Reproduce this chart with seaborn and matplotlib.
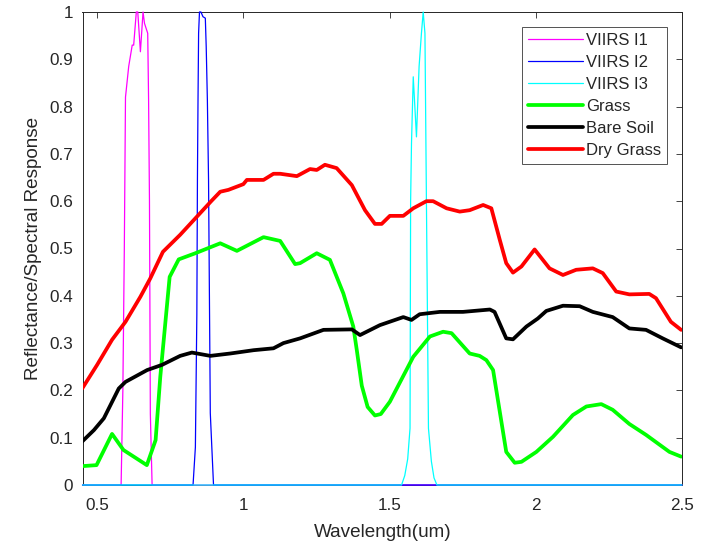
import numpy as np
import pandas as pd
import matplotlib
matplotlib.use('Agg')
import matplotlib.pyplot as plt
import seaborn as sns
from matplotlib.ticker import FuncFormatter

# ---- data ----
wl_i1 = [0.45, 0.582, 0.588, 0.593, 0.597, 0.608, 0.620, 0.625, 0.634, 0.639, 0.648,
         0.657, 0.662, 0.673, 0.676, 0.679, 0.682, 0.688, 2.5]
resp_i1 = [0, 0, 0.20, 0.50, 0.82, 0.885, 0.93, 0.93, 1.0, 1.0, 0.916,
           1.0, 0.976, 0.955, 0.814, 0.60, 0.15, 0, 0]

wl_i2 = [0.45, 0.828, 0.836, 0.841, 0.843, 0.845, 0.847, 0.850, 0.855, 0.862, 0.870,
         0.873, 0.877, 0.881, 0.887, 0.898, 2.5]
resp_i2 = [0, 0, 0.08, 0.36, 0.645, 0.814, 0.955, 1.0, 1.0, 0.99, 0.987,
           0.927, 0.814, 0.645, 0.152, 0, 0]

wl_i3 = [0.45, 1.541, 1.552, 1.562, 1.570, 1.572, 1.575, 1.581, 1.592, 1.601, 1.609,
         1.615, 1.621, 1.626, 1.633, 1.643, 1.652, 1.662, 2.5]
resp_i3 = [0, 0, 0.02, 0.055, 0.12, 0.60, 0.722, 0.863, 0.736, 0.885, 0.955,
           1.0, 0.955, 0.603, 0.12, 0.05, 0.015, 0, 0]

wl_grass = [0.452, 0.498, 0.551, 0.590, 0.670, 0.700, 0.716, 0.748, 0.779, 0.836, 0.921,
            0.978, 1.069, 1.126, 1.177, 1.194, 1.251, 1.296, 1.342, 1.376, 1.388, 1.405,
            1.425, 1.450, 1.470, 1.501, 1.581, 1.638, 1.683, 1.712, 1.774, 1.808, 1.831,
            1.854, 1.899, 1.928, 1.951, 2.002, 2.059, 2.127, 2.173, 2.224, 2.263, 2.320,
            2.377, 2.457, 2.497]
refl_grass = [0.040, 0.042, 0.108, 0.074, 0.042, 0.095, 0.229, 0.440, 0.477, 0.490, 0.511,
              0.495, 0.524, 0.516, 0.467, 0.469, 0.490, 0.476, 0.405, 0.335, 0.285, 0.210,
              0.165, 0.147, 0.150, 0.176, 0.271, 0.314, 0.324, 0.321, 0.278, 0.273, 0.264,
              0.243, 0.070, 0.047, 0.049, 0.070, 0.102, 0.148, 0.166, 0.171, 0.159, 0.129,
              0.106, 0.070, 0.060]

wl_soil = [0.449, 0.489, 0.523, 0.574, 0.597, 0.671, 0.722, 0.784, 0.824, 0.887, 0.955,
           1.035, 1.103, 1.137, 1.194, 1.274, 1.371, 1.399, 1.467, 1.547, 1.575, 1.603,
           1.672, 1.751, 1.843, 1.859, 1.899, 1.922, 1.968, 2.007, 2.036, 2.093, 2.150,
           2.195, 2.263, 2.320, 2.377, 2.434, 2.497]
refl_soil = [0.092, 0.116, 0.141, 0.204, 0.218, 0.243, 0.254, 0.273, 0.280, 0.273, 0.278,
             0.285, 0.289, 0.300, 0.310, 0.328, 0.329, 0.317, 0.338, 0.355, 0.349, 0.361,
             0.366, 0.366, 0.371, 0.366, 0.310, 0.308, 0.335, 0.352, 0.368, 0.379, 0.378,
             0.366, 0.355, 0.331, 0.328, 0.310, 0.291]

wl_dry = [0.449, 0.500, 0.551, 0.597, 0.648, 0.682, 0.725, 0.784, 0.890, 0.921, 0.949,
          1.000, 1.012, 1.069, 1.103, 1.126, 1.183, 1.228, 1.251, 1.279, 1.319, 1.371,
          1.416, 1.450, 1.473, 1.501, 1.547, 1.581, 1.626, 1.649, 1.695, 1.740, 1.774,
          1.820, 1.848, 1.877, 1.899, 1.922, 1.951, 1.996, 2.047, 2.093, 2.138, 2.195,
          2.229, 2.275, 2.320, 2.388, 2.411, 2.462, 2.497]
refl_dry = [0.204, 0.254, 0.307, 0.345, 0.398, 0.437, 0.493, 0.529, 0.600, 0.620, 0.624,
            0.636, 0.645, 0.645, 0.658, 0.658, 0.653, 0.668, 0.666, 0.677, 0.670, 0.634,
            0.581, 0.552, 0.552, 0.569, 0.569, 0.585, 0.600, 0.600, 0.585, 0.578, 0.581,
            0.592, 0.585, 0.518, 0.469, 0.449, 0.462, 0.498, 0.458, 0.444, 0.455, 0.458,
            0.448, 0.409, 0.403, 0.404, 0.395, 0.345, 0.328]

x_ticks = [0.5, 1, 1.5, 2, 2.5]
y_ticks = [0, 0.1, 0.2, 0.3, 0.4, 0.5, 0.6, 0.7, 0.8, 0.9, 1.0]

# ---- style ----
sns.set_theme(style='white')
plt.rcParams['font.family'] = ['Liberation Sans', 'DejaVu Sans']
TXT = '#262626'

W, H = 717, 548
fig = plt.figure(figsize=(W / 100, H / 100), dpi=100)
L, R, T, B = 82.5, 682, 12, 485
ax = fig.add_axes([L / W, 1 - B / H, (R - L) / W, (B - T) / H])

thin = 0.9
thick = 2.7
series = [
    (wl_i1, resp_i1, 'VIIRS I1', '#FF00FF', thin),
    (wl_i2, resp_i2, 'VIIRS I2', '#0000FF', thin),
    (wl_i3, resp_i3, 'VIIRS I3', '#00FFFF', thin),
    (wl_grass, refl_grass, 'Grass', '#00FF00', thick),
    (wl_soil, refl_soil, 'Bare Soil', '#000000', thick),
    (wl_dry, refl_dry, 'Dry Grass', '#FF0000', thick),
]
for i, (xs, ys, lab, col, lw) in enumerate(series):
    df = pd.DataFrame({'x': xs, 'y': ys})
    sns.lineplot(data=df, x='x', y='y', ax=ax, color=col, linewidth=lw,
                 label=lab, sort=False, estimator=None, zorder=3 + i,
                 clip_on=(lw != thin))

ax.set_xlim(0.45, 2.5)
ax.set_ylim(0, 1)
ax.set_xticks(x_ticks)
ax.set_yticks(y_ticks)
fmt = FuncFormatter(lambda v, p: '%g' % round(v, 3))
ax.xaxis.set_major_formatter(fmt)
ax.yaxis.set_major_formatter(fmt)
ax.tick_params(direction='in', top=True, right=True, length=4, width=0.6,
               color=TXT, labelcolor=TXT, labelsize=12.3)
ax.tick_params(axis='x', pad=9.5)
ax.tick_params(axis='y', pad=7)
for s in ax.spines.values():
    s.set_visible(True)
    s.set_color(TXT)
    s.set_linewidth(0.7)
    s.set_zorder(2)

ax.set_xlabel('Wavelength(um)', fontsize=13.6, color=TXT)
ax.set_ylabel('Reflectance/Spectral Response', fontsize=13.6, color=TXT)
ax.xaxis.set_label_coords(0.5, -(524 - B) / (B - T))
ax.yaxis.set_label_coords(-(L - 42) / (R - L), 0.5)

leg = ax.legend(loc='upper right', bbox_to_anchor=((667 - L) / (R - L), 1 - (27 - T) / (B - T)),
                borderaxespad=0, fontsize=12, frameon=True, fancybox=False,
                handlelength=3.3, handletextpad=0.2, labelspacing=0.42, borderpad=0.35)
leg.get_frame().set_edgecolor(TXT)
leg.get_frame().set_linewidth(0.7)
for t in leg.get_texts():
    t.set_color(TXT)

fig.savefig('out.png', dpi=100)
